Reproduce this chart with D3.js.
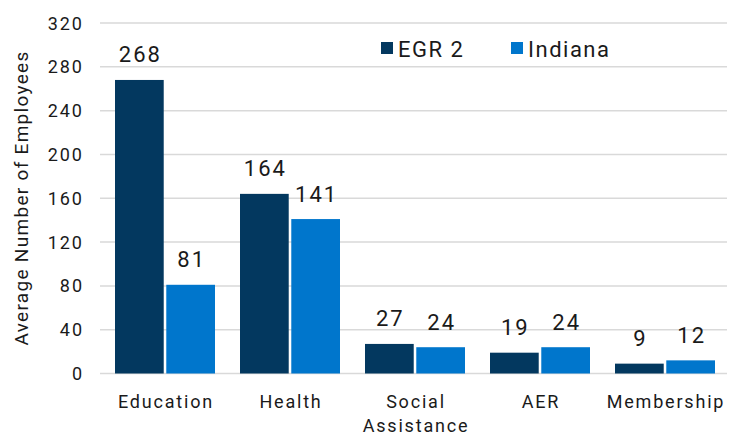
<!DOCTYPE html>
<html>
<head>
<meta charset="utf-8">
<script src="https://cdn.jsdelivr.net/npm/d3@7"></script>
<style>
  body { margin: 0; background: #fff; }
  text { font-family: Roboto, "Liberation Sans", sans-serif; fill: #1a1a1a; }
</style>
</head>
<body>
<svg width="741" height="435"></svg>
<script>
// categories along the x axis, two series per category
const categories = ["Education", "Health", "Social Assistance", "AER", "Membership"];
const seriesNames = ["EGR 2", "Indiana"];
const egrValues = [268, 164, 27, 19, 9];
const indianaValues = [81, 141, 24, 24, 12];
const yTicks = [0, 40, 80, 120, 160, 200, 240, 280, 320];

const colors = ["#03385f", "#0076cc"];

const svg = d3.select("svg");

// plot area
const plotLeft = 100, plotRight = 727, plotTop = 23, plotBottom = 373.5;

const x = d3.scaleBand().domain(categories).range([102.5, 727.5])
  .paddingInner(0.2).paddingOuter(0.1);
const xInner = d3.scaleBand().domain(seriesNames).range([0, x.bandwidth()])
  .paddingInner(0.05);
const y = d3.scaleLinear().domain([0, 320]).range([plotBottom, plotTop]);

// gridlines
svg.append("g")
  .selectAll("line")
  .data(yTicks)
  .join("line")
  .attr("x1", plotLeft)
  .attr("x2", plotRight)
  .attr("y1", d => y(d))
  .attr("y2", d => y(d))
  .attr("stroke", "#d9d9d9")
  .attr("stroke-width", 1.5);

// y tick labels
svg.append("g")
  .selectAll("text")
  .data(yTicks)
  .join("text")
  .attr("x", 84)
  .attr("y", d => y(d) + 6.5)
  .attr("text-anchor", "end")
  .style("font-size", "18px")
  .style("letter-spacing", "2px")
  .text(d => d);

// y axis title
svg.append("text")
  .attr("transform", "translate(28," + 198 + ") rotate(-90)")
  .attr("text-anchor", "middle")
  .style("font-size", "19px")
  .style("letter-spacing", "1.3px")
  .text("Average Number of Employees");

// table of rows built from the arrays
const rows = categories.map((c, i) => ({
  cat: c,
  vals: [
    { name: seriesNames[0], v: egrValues[i] },
    { name: seriesNames[1], v: indianaValues[i] }
  ]
}));

const groups = svg.append("g")
  .selectAll("g")
  .data(rows)
  .join("g")
  .attr("transform", d => "translate(" + x(d.cat) + ",0)");

groups.selectAll("rect")
  .data(d => d.vals)
  .join("rect")
  .attr("x", d => xInner(d.name))
  .attr("y", d => y(d.v))
  .attr("width", xInner.bandwidth())
  .attr("height", d => y(0) - y(d.v))
  .attr("fill", (d, i) => colors[i]);

// value labels above bars
groups.selectAll("text.val")
  .data(d => d.vals)
  .join("text")
  .attr("class", "val")
  .attr("x", d => xInner(d.name) + xInner.bandwidth() / 2 + 1)
  .attr("y", d => y(d.v) - 17.5)
  .attr("text-anchor", "middle")
  .style("font-size", "22px")
  .style("letter-spacing", "2px")
  .text(d => d.v);

// category labels (wrap two-word label)
svg.append("g")
  .selectAll("text")
  .data(categories)
  .join("text")
  .attr("x", d => x(d) + x.bandwidth() / 2 + 1)
  .attr("y", 408)
  .attr("text-anchor", "middle")
  .style("font-size", "18px")
  .style("letter-spacing", "1.8px")
  .each(function (d) {
    const words = d === "Social Assistance" ? d.split(" ") : [d];
    const t = d3.select(this);
    words.forEach((w, i) => {
      t.append("tspan")
        .attr("x", x(d) + x.bandwidth() / 2 + 1)
        .attr("dy", i === 0 ? 0 : 23.5)
        .text(w);
    });
  });

// legend
const legendX = [381, 511];
const legend = svg.append("g")
  .selectAll("g")
  .data(seriesNames)
  .join("g")
  .attr("transform", (d, i) => "translate(" + legendX[i] + ",42)");
legend.append("rect")
  .attr("width", 12)
  .attr("height", 12)
  .attr("fill", (d, i) => colors[i]);
legend.append("text")
  .attr("x", 17)
  .attr("y", 14.5)
  .style("font-size", "22px")
  .style("letter-spacing", "1.5px")
  .text(d => d);
</script>
</body>
</html>
